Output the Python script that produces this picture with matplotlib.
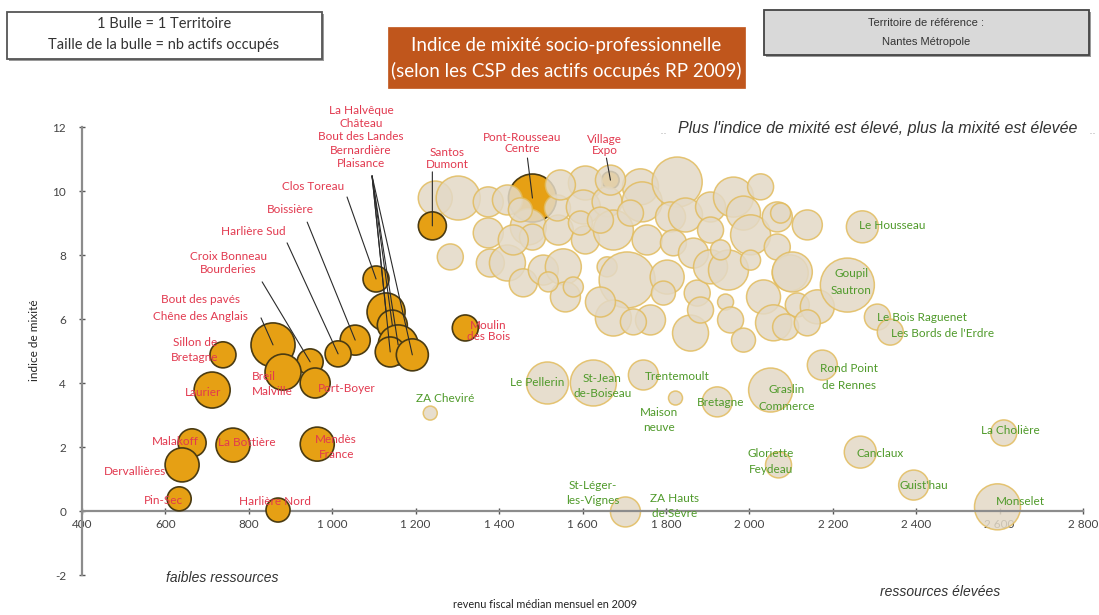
import matplotlib
matplotlib.use("Agg")
import matplotlib.pyplot as plt
from matplotlib.patches import Rectangle
from matplotlib.ticker import FuncFormatter
import numpy as np

# ---------------- DATA ----------------
# Territoires "prioritaires" (orange bubbles, red labels)
orange_names = ["La Halvêque", "Château", "Bout des Landes", "Bernardière", "Plaisance",
                "Clos Toreau", "Boissière", "Harlière Sud", "Croix Bonneau\nBourderies",
                "Bout des pavés\nChêne des Anglais", "Breil\nMalville", "Port-Boyer",
                "Sillon de\nBretagne", "Laurier", "Malakoff", "Dervallières", "La Bottière",
                "Mendès\nFrance", "Pin-Sec", "Harlière Nord", "Santos\nDumont",
                "Pont-Rousseau\nCentre", "Village\nExpo", "Moulin\ndes Bois"]
orange_rev = [1129, 1144, 1158, 1139, 1192, 1105, 1055, 1014, 947, 858, 882, 959,
              738, 712, 664, 640, 762, 964, 633, 870, 1240, 1480, 1667, 1319]
orange_idx = [6.22, 5.81, 5.19, 4.97, 4.88, 7.25, 5.34, 4.91, 4.66, 5.19, 4.34, 4.00,
              4.88, 3.78, 2.13, 1.44, 2.06, 2.09, 0.38, 0.03, 8.91, 9.78, 10.34, 5.72]
orange_act = [7220, 4500, 8000, 4500, 5120, 3380, 4500, 3380, 3380, 9680, 6480, 4500,
              3380, 6480, 3920, 5780, 5780, 5780, 2880, 2880, 3920, 11520, 1500, 3380]

# Named other territories (beige bubbles, green labels)
green_names = ["ZA Cheviré", "Le Pellerin", "St-Jean\nde-Boiseau", "Trentemoult",
               "Maison\nneuve", "Bretagne", "Graslin\nCommerce", "Rond Point\nde Rennes",
               "Gloriette\nFeydeau", "Canclaux", "Guist'hau", "La Cholière", "Monselet",
               "St-Léger-\nles-Vignes", "Le Housseau", "Goupil\nSautron",
               "Le Bois Raguenet", "Les Bords de l'Erdre"]
green_rev = [1235, 1516, 1626, 1746, 1823, 1923, 2051, 2175, 2070, 2266, 2394, 2610,
             2595, 1703, 2271, 2235, 2307, 2338]
green_idx = [3.06, 4.00, 4.00, 4.25, 3.53, 3.41, 3.78, 4.56, 1.44, 1.84, 0.81, 2.44,
             0.13, -0.03, 8.88, 7.06, 6.06, 5.59]
green_act = [980, 8820, 10580, 4500, 980, 4500, 9680, 4500, 3380, 5120, 4500, 3380,
             10580, 4500, 5120, 14580, 3380, 3380]

# Label without visible bubble
extra_label = "ZA Hauts\nde Sèvre"
extra_rev = 1820
extra_idx = 0.16

# Unnamed territories (beige bubbles)
other_rev = [1247, 1302, 1374, 1420, 1283, 1374, 1379, 1420, 1458, 1470, 1480, 1542,
             1540, 1506, 1554, 1559, 1518, 1607, 1602, 1607, 1578, 1659, 1674, 1659,
             1707, 1674, 1739, 1743, 1755, 1763, 1722, 1827, 1811, 1847, 1818, 1803,
             1794, 1866, 1875, 1859, 1907, 1907, 1907, 1950, 1943, 1955, 1986, 1962,
             1986, 2003, 2067, 2139, 2067, 2098, 2034, 2058, 2115, 2163, 2003, 1931,
             1595, 1715, 1643, 2027, 2075, 2103, 2087, 2139, 1667, 1547, 1434, 1451,
             1643, 1883]
other_idx = [9.78, 9.78, 9.66, 9.72, 7.94, 8.69, 7.75, 7.75, 7.13, 8.88, 8.56, 8.78,
             9.47, 7.53, 7.63, 6.69, 7.16, 10.25, 9.50, 8.47, 7.00, 9.66, 8.78, 7.63,
             7.22, 6.03, 10.13, 9.66, 8.47, 5.97, 5.91, 10.28, 9.19, 9.25, 8.38, 7.31,
             6.81, 8.06, 6.81, 5.56, 9.50, 8.78, 7.63, 7.53, 6.53, 5.97, 5.34, 9.81,
             9.31, 8.63, 9.19, 8.94, 8.25, 7.44, 6.69, 5.88, 6.44, 6.38, 7.84, 8.16,
             9.00, 9.31, 9.09, 10.13, 9.31, 7.47, 5.75, 5.88, 10.34, 10.19, 8.47, 9.41,
             6.53, 6.28]
other_act = [5780, 9680, 4500, 4500, 3380, 4500, 3920, 6480, 3920, 6480, 3380, 4500,
             3380, 4500, 6480, 4500, 2000, 5780, 5780, 3920, 2000, 4500, 8000, 2000,
             15680, 6480, 6480, 8000, 4500, 4500, 3380, 12500, 4500, 5780, 3380, 5780,
             2880, 4500, 3380, 6480, 4500, 3380, 5780, 8000, 1280, 3380, 2880, 8000,
             5780, 8000, 4500, 4500, 3380, 6480, 5780, 6480, 2880, 5780, 2000, 2000,
             2880, 3380, 3380, 3380, 2000, 8000, 3380, 3380, 4500, 4500, 4500, 2880,
             4500, 3380]

x_ticks = [400, 600, 800, 1000, 1200, 1400, 1600, 1800, 2000, 2200, 2400, 2600, 2800]
y_ticks = [-2, 0, 2, 4, 6, 8, 10, 12]

# ---------------- LAYOUT / STYLE ----------------
W, H = 1099, 615
fig = plt.figure(figsize=(W / 100, H / 100), dpi=100)
fig.patch.set_facecolor("white")
ax = fig.add_axes([82 / W, (H - 575) / H, 1001 / W, 448 / H])
ax.set_xlim(400, 2800)
ax.set_ylim(-2, 12)

FONT = ["Lato", "DejaVu Sans"]
ARIAL = ["Liberation Sans", "DejaVu Sans"]
RED = "#E2394F"
GREEN = "#4F9A2A"
ORANGE = "#E6A014"
ORANGE_EDGE = "#4A3B12"
BEIGE = "#E3D9C6"
BEIGE_EDGE = "#E2BC5E"
K = 0.1037  # points^2 per actif

def size(a):
    return np.asarray(a, dtype=float) * K

hidden = {"Pont-Rousseau\nCentre", "Village\nExpo"}
o_rev = np.array(orange_rev); o_idx = np.array(orange_idx); o_act = np.array(orange_act)
mask_hidden = np.array([n in hidden for n in orange_names])

# orange bubbles partly covered by the cloud
ax.scatter(o_rev[mask_hidden], o_idx[mask_hidden], s=size(o_act[mask_hidden]),
           c=ORANGE, edgecolors=ORANGE_EDGE, linewidths=1.2, zorder=1.5)
# beige cloud
ax.scatter(other_rev, other_idx, s=size(other_act), c=BEIGE, alpha=0.85,
           edgecolors=BEIGE_EDGE, linewidths=1.1, zorder=2)
ax.scatter(green_rev, green_idx, s=size(green_act), c=BEIGE, alpha=0.85,
           edgecolors=BEIGE_EDGE, linewidths=1.1, zorder=2)
# orange bubbles on top
ax.scatter(o_rev[~mask_hidden], o_idx[~mask_hidden], s=size(o_act[~mask_hidden]),
           c=ORANGE, edgecolors=ORANGE_EDGE, linewidths=1.2, zorder=3)

# label offsets in pixels (dx right, dy up) relative to bubble centre
orange_label_off = {
    "Clos Toreau": (-63, 92), "Boissière": (-65, 131), "Harlière Sud": (-85, 122),
    "Croix Bonneau\nBourderies": (-82, 99), "Bout des pavés\nChêne des Anglais": (-73, 37),
    "Breil\nMalville": (-31, -12), "Port-Boyer": (32, -5), "Sillon de\nBretagne": (-28, 5),
    "Laurier": (-9, -2), "Malakoff": (-17, 1), "Dervallières": (-47, -7),
    "La Bottière": (14, 3), "Mendès\nFrance": (19, -3), "Pin-Sec": (-16, -2),
    "Harlière Nord": (-3, 9), "Santos\nDumont": (15, 67), "Pont-Rousseau\nCentre": (-10, 55),
    "Village\nExpo": (-6, 35), "Moulin\ndes Bois": (23, -3),
}
line_spacing = {
    "Bout des pavés\nChêne des Anglais": 1.6, "Breil\nMalville": 1.5,
    "Sillon de\nBretagne": 1.5, "Mendès\nFrance": 1.5, "Santos\nDumont": 1.1,
    "Pont-Rousseau\nCentre": 0.95, "Village\nExpo": 0.95, "Moulin\ndes Bois": 1.1,
    "Croix Bonneau\nBourderies": 1.2,
}
leader_start = {
    "Clos Toreau": (-29, 82), "Boissière": (-48, 118), "Harlière Sud": (-51, 111),
    "Croix Bonneau\nBourderies": (-48, 80), "Bout des pavés\nChêne des Anglais": (-12, 27),
    "Santos\nDumont": (0, 54), "Pont-Rousseau\nCentre": (-5, 40), "Village\nExpo": (-4, 22),
}
fan_names = ["La Halvêque", "Château", "Bout des Landes", "Bernardière", "Plaisance"]
ha_left = {"Breil\nMalville"}

lbl_kw = dict(textcoords="offset pixels", va="center", fontsize=8.5, family=FONT, zorder=5)
line_kw = dict(arrowstyle="-", color="#2b2b2b", lw=0.8, shrinkA=0, shrinkB=0)

# fan of 5 leader lines to a common point
fan_pt = None
for n, xv, yv in zip(orange_names, orange_rev, orange_idx):
    if n in fan_names:
        disp = ax.transData.transform((xv, yv))
        if fan_pt is None:
            fan_pt = (disp[0] - 14, disp[1] + 136)
            ax.annotate("\n".join(fan_names), xy=(xv, yv), xytext=(-25, 175),
                        ha="center", color=RED, linespacing=1.25, **lbl_kw)
        ax.annotate("", xy=(xv, yv), xytext=(fan_pt[0] - disp[0], fan_pt[1] - disp[1]),
                    textcoords="offset pixels", arrowprops=line_kw, zorder=4)

for n, xv, yv in zip(orange_names, orange_rev, orange_idx):
    if n in fan_names:
        continue
    off = orange_label_off[n]
    ax.annotate(n, xy=(xv, yv), xytext=off, ha="left" if n in ha_left else "center",
                color=RED, linespacing=line_spacing.get(n, 1.2), **lbl_kw)
    if n in leader_start:
        ax.annotate("", xy=(xv, yv), xytext=leader_start[n], textcoords="offset pixels",
                    arrowprops=line_kw, zorder=4)

green_label_off = {
    "ZA Cheviré": (15, 15), "Le Pellerin": (-10, 0), "St-Jean\nde-Boiseau": (9, -3),
    "Trentemoult": (34, -2), "Maison\nneuve": (-17, -22), "Bretagne": (3, -1),
    "Graslin\nCommerce": (16, -8), "Rond Point\nde Rennes": (27, -12),
    "Gloriette\nFeydeau": (-8, 3), "Canclaux": (20, -1), "Guist'hau": (10, 0),
    "La Cholière": (7, 2), "Monselet": (23, 5), "St-Léger-\nles-Vignes": (-33, 19),
    "Le Housseau": (30, 1), "Goupil\nSautron": (4, 3), "Le Bois Raguenet": (45, 0),
    "Les Bords de l'Erdre": (52, -1),
}
green_ls = {"St-Jean\nde-Boiseau": 1.5, "Maison\nneuve": 1.5, "Graslin\nCommerce": 1.6,
            "Rond Point\nde Rennes": 1.6, "Gloriette\nFeydeau": 1.55, "St-Léger-\nles-Vignes": 1.4,
            "Goupil\nSautron": 1.75}
for n, xv, yv in zip(green_names, green_rev, green_idx):
    ax.annotate(n, xy=(xv, yv), xytext=green_label_off[n], ha="center", color=GREEN,
                linespacing=green_ls.get(n, 1.2), **lbl_kw)
ax.text(extra_rev, extra_idx, extra_label, ha="center", va="center", color=GREEN,
        fontsize=8.5, family=FONT, linespacing=1.4, zorder=5)

# ---------------- AXES ----------------
for s in ["top", "right"]:
    ax.spines[s].set_visible(False)
ax.spines["bottom"].set_position(("data", 0))
for s in ["left", "bottom"]:
    ax.spines[s].set_color("#8c8c8c")
    ax.spines[s].set_linewidth(1.6)
ax.set_xticks(x_ticks)
ax.set_yticks(y_ticks)
ax.xaxis.set_major_formatter(FuncFormatter(lambda v, p: f"{int(v):,}".replace(",", " ")))
ax.yaxis.set_major_formatter(FuncFormatter(lambda v, p: f"{int(v)}"))
ax.tick_params(axis="both", direction="inout", length=5, width=1, color="#555555",
               labelsize=8.5, labelcolor="#444444")
ax.tick_params(axis="x", pad=3)
ax.tick_params(axis="y", pad=9)
for lab in ax.get_xticklabels() + ax.get_yticklabels():
    lab.set_family(FONT)
ax.set_facecolor("none")

def fx(px):
    return px / W

def fy(py):
    return 1 - py / H

fig.text(fx(35), fy(340), "indice de mixité", rotation=90, ha="center", va="center",
         fontsize=8.5, family=FONT, color="#222222")
fig.text(fx(222), fy(578), "faibles ressources", ha="center", va="center",
         fontsize=10, style="italic", family=ARIAL, color="#333333")
fig.text(fx(940), fy(592), "ressources élevées", ha="center", va="center",
         fontsize=10, style="italic", family=ARIAL, color="#333333")
fig.text(fx(545), fy(604), "revenu fiscal médian mensuel en 2009", ha="center", va="center",
         fontsize=7.8, family=FONT, color="#222222")
fig.text(fx(878), fy(128), "Plus l'indice de mixité est élevé, plus la mixité est élevée",
         ha="center", va="center", fontsize=11.5, style="italic", family=ARIAL, color="#333333")
fig.text(fx(664), fy(131), "..", ha="center", va="center", fontsize=9, color="#bbbbbb")
fig.text(fx(1093), fy(131), "..", ha="center", va="center", fontsize=9, color="#bbbbbb")

# ---------------- TOP BOXES ----------------
def box(x0, y0, x1, y1, fc, ec, lw, shadow=True):
    if shadow:
        fig.patches.append(Rectangle((fx(x0) + 2 / W, fy(y1) - 2 / H), fx(x1 - x0), (y1 - y0) / H,
                                     transform=fig.transFigure, fc="#9a9a9a", ec="none", zorder=1))
    fig.patches.append(Rectangle((fx(x0), fy(y1)), fx(x1 - x0), (y1 - y0) / H,
                                 transform=fig.transFigure, fc=fc, ec=ec, lw=lw, zorder=2))

box(7, 12, 322, 59, "white", "#555555", 1.3)
fig.text(fx(164), fy(24), "1 Bulle = 1 Territoire", ha="center", va="center",
         fontsize=10.5, family=FONT, color="#333333")
fig.text(fx(164), fy(45), "Taille de la bulle = nb actifs occupés", ha="center", va="center",
         fontsize=10.5, family=FONT, color="#333333")

box(388, 27, 745, 88, "#C0561C", "#C0561C", 0.5, shadow=False)
fig.text(fx(566), fy(45), "Indice de mixité socio-professionnelle", ha="center", va="center",
         fontsize=13.5, family=FONT, color="white")
fig.text(fx(566), fy(71), "(selon les CSP des actifs occupés RP 2009)", ha="center", va="center",
         fontsize=13.5, family=FONT, color="white")

box(764, 10, 1089, 55, "#D9D9D9", "#444444", 1.3)
fig.text(fx(926), fy(23), "Territoire de référence :", ha="center", va="center",
         fontsize=8, family=ARIAL, color="#333333")
fig.text(fx(926), fy(42), "Nantes Métropole", ha="center", va="center",
         fontsize=8, family=ARIAL, color="#333333")

fig.savefig("out.png", dpi=100)
